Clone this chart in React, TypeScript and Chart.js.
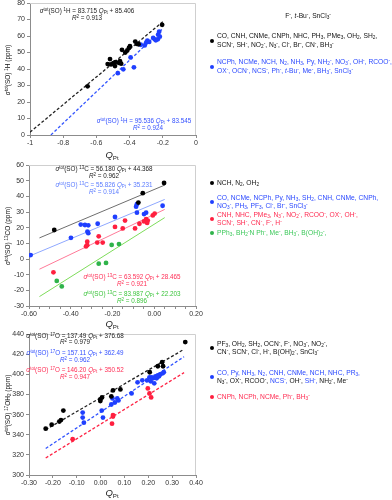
import React, { useEffect, useRef } from 'react';
import { Chart, registerables } from 'chart.js';
Chart.register(...registerables);

const FONT = "'Liberation Sans', Arial, Helvetica, sans-serif";

// ---------- Panel 1 (1H) ----------
const p1BlackQ = [-0.653, -0.532, -0.518, -0.512, -0.498, -0.486, -0.488, -0.466, -0.458, -0.451, -0.446, -0.426, -0.414, -0.404, -0.398, -0.366, -0.356, -0.346, -0.204];
const p1BlackH = [29.5, 43.0, 46.0, 42.8, 43.6, 44.2, 41.8, 43.8, 44.8, 43.2, 51.6, 50.0, 51.2, 52.8, 53.8, 56.6, 55.2, 55.0, 66.8];
const p1BlueQ = [-0.471, -0.438, -0.394, -0.374, -0.333, -0.309, -0.300, -0.293, -0.282, -0.258, -0.248, -0.242, -0.230, -0.228, -0.222, -0.218];
const p1BlueH = [37.5, 39.8, 47.0, 41.0, 54.7, 54.3, 56.0, 57.2, 56.4, 58.8, 58.0, 57.4, 58.0, 60.8, 62.6, 59.6];
const p1FitSlope = [83.715, 95.536];
const p1FitIntercept = [85.406, 83.545];
const p1FitFrom = [-1.0, -0.874];
const p1FitTo = [-0.2, -0.2];
const p1XTicks = [-1, -0.8, -0.6, -0.4, -0.2, 0];
const p1XLabels = ['-1', '-0.8', '-0.6', '-0.4', '-0.2', '0'];
const p1YTicks = [0, 10, 20, 30, 40, 50, 60, 70, 80];
const p1YLabels = ['0', '10', '20', '30', '40', '50', '60', '70', '80'];

// ---------- Panel 2 (13C) ----------
const p2BlackQ = [-0.479, -0.076, -0.055, 0.047];
const p2BlackC = [18.5, 36.0, 42.0, 48.5];
const p2BlueQ = [-0.592, -0.399, -0.352, -0.332, -0.316, -0.320, -0.316, -0.271, -0.188, -0.087, -0.083, -0.083, -0.049, -0.039, 0.040];
const p2BlueC = [2.5, 13.5, 22.0, 21.7, 21.5, 17.5, 16.5, 22.5, 26.8, 33.4, 35.0, 29.6, 28.7, 29.6, 34.0];
const p2RedQ = [-0.483, -0.327, -0.321, -0.321, -0.266, -0.273, -0.247, -0.188, -0.151, -0.140, -0.092, -0.071, -0.049, -0.039, -0.031, -0.034, -0.007, 0.002];
const p2RedC = [-8.5, 8.0, 8.8, 11.0, 14.5, 10.5, 10.5, 20.5, 19.5, 24.5, 19.5, 22.5, 24.0, 25.5, 24.5, 23.0, 27.8, 29.0];
const p2GreenQ = [-0.467, -0.443, -0.266, -0.231, -0.204, -0.169];
const p2GreenC = [-14.0, -17.5, -3.0, -2.5, 9.0, 9.5];
const p2FitSlope = [56.18, 55.826, 63.592, 83.987];
const p2FitIntercept = [44.368, 35.231, 28.465, 22.203];
const p2FitFrom = [-0.55, -0.6, -0.55, -0.55];
const p2FitTo = [0.05, 0.05, 0.05, 0.05];
const p2XTicks = [-0.6, -0.55, -0.5, -0.45, -0.4, -0.35, -0.3, -0.25, -0.2, -0.15, -0.1, -0.05, 0, 0.05, 0.1, 0.15, 0.2];
const p2XLabels = ['-0.60', '', '', '', '-0.40', '', '', '', '-0.20', '', '', '', '0.00', '', '', '', '0.20'];
const p2YTicks = [-30, -20, -10, 0, 10, 20, 30, 40, 50, 60];
const p2YLabels = ['-30', '-20', '-10', '0', '10', '20', '30', '40', '50', '60'];

// ---------- Panel 3 (17O) ----------
const p3BlackQ = [-0.230, -0.205, -0.173, -0.166, -0.156, -0.001, 0.006, -0.001, 0.045, 0.052, 0.083, 0.206, 0.240, 0.258, 0.262, 0.355];
const p3BlackO = [346, 350, 353, 354.5, 364, 375, 377, 373.5, 378, 384, 385, 402, 408, 412, 408, 432];
const p3BlueQ = [-0.075, -0.075, -0.070, 0.005, 0.010, 0.045, 0.050, 0.060, 0.070, 0.075, 0.130, 0.155, 0.175, 0.195, 0.205, 0.210, 0.215, 0.220, 0.225, 0.230, 0.235, 0.240, 0.245, 0.250, 0.260, 0.265];
const p3BlueO = [362, 357, 352, 364, 357, 370, 376, 372, 376, 374, 381, 392, 394, 394, 397, 393, 397, 396, 391, 398, 396, 399, 398, 400, 401, 402];
const p3RedQ = [-0.117, 0.048, 0.052, 0.052, 0.198, 0.205, 0.212];
const p3RedO = [335.5, 351, 359.5, 358, 386, 381, 377];
const p3FitSlope = [137.49, 157.11, 146.2];
const p3FitIntercept = [376.68, 362.49, 350.52];
const p3FitFrom = [-0.23, -0.23, -0.23];
const p3FitTo = [0.35, 0.35, 0.35];
const p3XTicks = [-0.3, -0.2, -0.1, 0, 0.1, 0.2, 0.3, 0.4];
const p3XLabels = ['-0.30', '-0.20', '-0.10', '0.00', '0.10', '0.20', '0.30', '0.40'];
const p3YTicks = [300, 320, 340, 360, 380, 400, 420, 440];
const p3YLabels = ['300', '320', '340', '360', '380', '400', '420', '440'];

const pts = (xs: number[], ys: number[]) => xs.map((x, i) => ({ x, y: ys[i] }));
const fitPts = (m: number, b: number, x0: number, x1: number) => [
  { x: x0, y: m * x0 + b },
  { x: x1, y: m * x1 + b },
];

const framePlugin = {
  id: 'frame',
  beforeDatasetsDraw(chart: any) {
    const { ctx, chartArea: a } = chart;
    ctx.save();
    ctx.strokeStyle = '#cfcfcf';
    ctx.lineWidth = 1;
    ctx.beginPath();
    ctx.moveTo(a.left, a.top + 0.5);
    ctx.lineTo(a.right - 0.5, a.top + 0.5);
    ctx.lineTo(a.right - 0.5, a.bottom);
    ctx.stroke();
    ctx.restore();
  },
};

function scatterSet(data: any[], color: string) {
  return { data, backgroundColor: color, borderColor: color, pointRadius: 2.4, pointBorderWidth: 0, showLine: false };
}
function lineSet(data: any[], color: string, dash: number[], width: number) {
  return { data, borderColor: color, backgroundColor: color, borderWidth: width, borderDash: dash, pointRadius: 0, showLine: true };
}

function makeConfig(o: any) {
  return {
    type: 'scatter',
    data: { datasets: o.datasets },
    plugins: [framePlugin],
    options: {
      responsive: false,
      animation: false,
      devicePixelRatio: 1,
      layout: { padding: { top: o.padTop, right: 19, left: 0, bottom: 0 } },
      plugins: { legend: { display: false }, tooltip: { enabled: false } },
      scales: {
        x: {
          type: 'linear',
          min: o.xMin,
          max: o.xMax,
          afterBuildTicks: (s: any) => { s.ticks = o.xTicks.map((v: number) => ({ value: v })); },
          afterFit: (s: any) => { s.height = 14; },
          ticks: { callback: (_v: any, i: number) => o.xLabels[i], autoSkip: false, maxRotation: 0, minRotation: 0, font: { size: 7, family: FONT }, color: '#333', padding: 1 },
          grid: { drawOnChartArea: false, drawTicks: true, tickLength: 3, color: '#8c8c8c' },
          border: { color: '#8c8c8c' },
        },
        y: {
          type: 'linear',
          min: o.yMin,
          max: o.yMax,
          afterBuildTicks: (s: any) => { s.ticks = o.yTicks.map((v: number) => ({ value: v })); },
          afterFit: (s: any) => { s.width = o.yWidth; },
          ticks: { callback: (_v: any, i: number) => o.yLabels[i], autoSkip: false, font: { size: 7, family: FONT }, color: '#333', padding: 2 },
          grid: { drawOnChartArea: false, drawTicks: true, tickLength: 3, color: '#8c8c8c' },
          border: { color: '#8c8c8c' },
        },
      },
    },
  };
}

const BLACK = '#000000';
const BLUE = '#1f3fff';
const RED = '#ff1f3f';
const GREEN = '#2fb34a';

const config1 = makeConfig({
  padTop: 13, yWidth: 30,
  xMin: -1, xMax: 0, yMin: 0, yMax: 80,
  xTicks: p1XTicks, xLabels: p1XLabels, yTicks: p1YTicks, yLabels: p1YLabels,
  datasets: [
    scatterSet(pts(p1BlackQ, p1BlackH), BLACK),
    scatterSet(pts(p1BlueQ, p1BlueH), BLUE),
    lineSet(fitPts(p1FitSlope[0], p1FitIntercept[0], p1FitFrom[0], p1FitTo[0]), '#222', [3, 2], 1.3),
    lineSet(fitPts(p1FitSlope[1], p1FitIntercept[1], p1FitFrom[1], p1FitTo[1]), '#3355ff', [3, 2], 1.3),
  ],
});

const config2 = makeConfig({
  padTop: 15, yWidth: 29,
  xMin: -0.6, xMax: 0.2, yMin: -30, yMax: 60,
  xTicks: p2XTicks, xLabels: p2XLabels, yTicks: p2YTicks, yLabels: p2YLabels,
  datasets: [
    scatterSet(pts(p2BlackQ, p2BlackC), BLACK),
    scatterSet(pts(p2BlueQ, p2BlueC), BLUE),
    scatterSet(pts(p2RedQ, p2RedC), RED),
    scatterSet(pts(p2GreenQ, p2GreenC), GREEN),
    lineSet(fitPts(p2FitSlope[0], p2FitIntercept[0], p2FitFrom[0], p2FitTo[0]), '#6e6e6e', [], 1),
    lineSet(fitPts(p2FitSlope[1], p2FitIntercept[1], p2FitFrom[1], p2FitTo[1]), '#8fa8ff', [], 1),
    lineSet(fitPts(p2FitSlope[2], p2FitIntercept[2], p2FitFrom[2], p2FitTo[2]), '#ff7a98', [], 1),
    lineSet(fitPts(p2FitSlope[3], p2FitIntercept[3], p2FitFrom[3], p2FitTo[3]), '#7edc5a', [], 1),
  ],
});

const config3 = makeConfig({
  padTop: 14, yWidth: 29,
  xMin: -0.3, xMax: 0.4, yMin: 300, yMax: 440,
  xTicks: p3XTicks, xLabels: p3XLabels, yTicks: p3YTicks, yLabels: p3YLabels,
  datasets: [
    scatterSet(pts(p3BlackQ, p3BlackO), BLACK),
    scatterSet(pts(p3BlueQ, p3BlueO), BLUE),
    scatterSet(pts(p3RedQ, p3RedO), RED),
    lineSet(fitPts(p3FitSlope[0], p3FitIntercept[0], p3FitFrom[0], p3FitTo[0]), '#222', [3, 2], 1.3),
    lineSet(fitPts(p3FitSlope[1], p3FitIntercept[1], p3FitFrom[1], p3FitTo[1]), '#3355ff', [3, 2], 1.3),
    lineSet(fitPts(p3FitSlope[2], p3FitIntercept[2], p3FitFrom[2], p3FitTo[2]), '#ff2244', [3, 2], 1.3),
  ],
});

function Panel({ top, height, config }: { top: number; height: number; config: any }) {
  const ref = useRef<HTMLCanvasElement>(null);
  useEffect(() => {
    const c = new Chart(ref.current as HTMLCanvasElement, config);
    return () => c.destroy();
  }, [config]);
  return (
    <canvas ref={ref} width={215} height={height}
      style={{ position: 'absolute', left: 0, top, width: 215, height }} />
  );
}

const subS: React.CSSProperties = { fontSize: '0.7em', verticalAlign: '-0.3em', lineHeight: 0 };
const supS: React.CSSProperties = { fontSize: '0.7em', verticalAlign: '0.45em', lineHeight: 0 };

function rich(s: string) {
  const parts = s.split(/(_\{[^}]*\}|\^\{[^}]*\}|\*[^*]+\*)/);
  return parts.map((p, i) => {
    if (p.startsWith('_{')) return <sub key={i} style={subS}>{p.slice(2, -1)}</sub>;
    if (p.startsWith('^{')) return <sup key={i} style={supS}>{p.slice(2, -1)}</sup>;
    if (p.length > 2 && p.startsWith('*') && p.endsWith('*')) return <i key={i}>{p.slice(1, -1)}</i>;
    return <React.Fragment key={i}>{p}</React.Fragment>;
  });
}

function T({ x, y, children, color = '#111', size = 6.3, align = 'left' }: any) {
  const tx = align === 'center' ? '-50%' : '0';
  return (
    <div style={{
      position: 'absolute', left: x, top: y, transform: `translate(${tx}, -50%)`,
      whiteSpace: 'nowrap', fontSize: size, lineHeight: 1, color, fontFamily: FONT,
    }}>{children}</div>
  );
}

const LS = 6.7;

function YTitle({ x, y, text }: { x: number; y: number; text: string }) {
  return (
    <div style={{
      position: 'absolute', left: x, top: y, transform: 'translate(-50%, -50%) rotate(-90deg)',
      whiteSpace: 'nowrap', fontSize: 6.5, lineHeight: 1, color: '#111', fontFamily: FONT,
    }}>{rich(text)}</div>
  );
}

function Dot({ x, y, color }: { x: number; y: number; color: string }) {
  return <div style={{ position: 'absolute', left: x - 2, top: y - 2, width: 4, height: 4, borderRadius: 2, background: color }} />;
}

function QPt({ x, y }: { x: number; y: number }) {
  return (
    <T x={x} y={y} align="center" size={9.5} color="#222">
      <i>Q</i><sub style={{ fontSize: '0.65em', verticalAlign: '-0.3em', lineHeight: 0 }}>Pt</sub>
    </T>
  );
}

const EQ_BLUE1 = '#3350ff';
const EQ_BLUE2 = '#5a7bff';
const EQ_RED = '#ff2e55';
const EQ_GREEN = '#3cc43c';
const LEG_BLUE = '#2a48ff';
const LEG_RED = '#ff2a50';
const LEG_GREEN = '#3cc85a';

export default function App() {
  return (
    <div style={{ position: 'fixed', left: 0, top: 0, width: 392, height: 500, background: '#fff', overflow: 'hidden', fontFamily: FONT }}>
      <Panel top={-10} height={159} config={config1} />
      <Panel top={150} height={170} config={config2} />
      <Panel top={320} height={169} config={config3} />

      {/* Panel 1 texts */}
      <YTitle x={8} y={70} text="*σ*^{tot}(SO) ^{1}H (ppm)" />
      <QPt x={112} y={155} />
      <T x={87} y={11} align="center" color="#222">{rich('*σ*^{tot}(SO) ^{1}H = 83.715 *Q*_{Pt} + 85.406')}</T>
      <T x={87} y={18} align="center" color="#222">{rich('*R*^{2} = 0.913')}</T>
      <T x={144} y={121} align="center" color={EQ_BLUE1}>{rich('*σ*^{tot}(SO) ^{1}H = 95.536 *Q*_{Pt} + 83.545')}</T>
      <T x={148} y={128} align="center" color={EQ_BLUE1}>{rich('*R*^{2} = 0.924')}</T>

      <T x={308} y={16} align="center" color="#111" size={LS}>{rich('F^{-}, *t*-Bu^{-}, SnCl_{3}^{-}')}</T>
      <Dot x={212} y={41} color={BLACK} />
      <T x={217} y={36} color="#111" size={LS}>{rich('CO, CNH, CNMe, CNPh, NHC, PH_{3}, PMe_{3}, OH_{2}, SH_{2},')}</T>
      <T x={217} y={45} color="#111" size={LS}>{rich('SCN^{-}, SH^{-}, NO_{2}^{-}, N_{3}^{-}, Cl^{-}, Br^{-}, CN^{-}, BH_{3}^{-}')}</T>
      <Dot x={212} y={67} color={BLUE} />
      <T x={217} y={62} color={LEG_BLUE} size={LS}>{rich('NCPh, NCMe, NCH, N_{2}, NH_{3}, Py, NH_{2}^{-}, NO_{3}^{-}, OH^{-}, RCOO^{-},')}</T>
      <T x={217} y={71} color={LEG_BLUE} size={LS}>{rich('OX^{-}, OCN^{-}, NCS^{-}, Ph^{-}, *t*-Bu^{-}, Me^{-}, BH_{3}^{-}, SnCl_{3}^{-}')}</T>

      {/* Panel 2 texts */}
      <YTitle x={8} y={236} text="*σ*^{tot}(SO) ^{13}CO (ppm)" />
      <QPt x={112} y={324} />
      <T x={104} y={169} align="center" color="#222">{rich('*σ*^{tot}(SO) ^{13}C = 56.180 *Q*_{Pt} + 44.368')}</T>
      <T x={104} y={176} align="center" color="#222">{rich('*R*^{2} = 0.962')}</T>
      <T x={104} y={185} align="center" color={EQ_BLUE2}>{rich('*σ*^{tot}(SO) ^{13}C = 55.826 *Q*_{Pt} + 35.231')}</T>
      <T x={104} y={192} align="center" color={EQ_BLUE2}>{rich('*R*^{2} = 0.914')}</T>
      <T x={132} y={277} align="center" color={EQ_RED}>{rich('*σ*^{tot}(SO) ^{13}C = 63.592 *Q*_{Pt} + 28.465')}</T>
      <T x={132} y={284} align="center" color={EQ_RED}>{rich('*R*^{2} = 0.921')}</T>
      <T x={132} y={294} align="center" color={EQ_GREEN}>{rich('*σ*^{tot}(SO) ^{13}C = 83.987 *Q*_{Pt} + 22.203')}</T>
      <T x={132} y={301} align="center" color={EQ_GREEN}>{rich('*R*^{2} = 0.896')}</T>

      <Dot x={212} y={183} color={BLACK} />
      <T x={217} y={183} color="#111" size={LS}>{rich('NCH,  N_{2}, OH_{2}')}</T>
      <Dot x={212} y={202} color={BLUE} />
      <T x={217} y={198} color={LEG_BLUE} size={LS}>{rich('CO, NCMe, NCPh, Py, NH_{3}, SH_{2}, CNH, CNMe, CNPh,')}</T>
      <T x={217} y={206} color={LEG_BLUE} size={LS}>{rich('NO_{3}^{-}, PH_{3}, PF_{3}, Cl^{-}, Br^{-}, SnCl_{3}^{-}')}</T>
      <Dot x={212} y={219} color={RED} />
      <T x={217} y={215} color={LEG_RED} size={LS}>{rich('CNH, NHC, PMe_{3}, N_{3}^{-}, NO_{2}^{-}, RCOO^{-}, OX^{-}, OH^{-},')}</T>
      <T x={217} y={223} color={LEG_RED} size={LS}>{rich('SCN^{-}, SH^{-}, CN^{-}, F^{-}, H^{-}')}</T>
      <Dot x={212} y={233} color={GREEN} />
      <T x={217} y={233} color={LEG_GREEN} size={LS}>{rich('PPh_{3}, BH_{2}^{-}N Ph^{-}, Me^{-}, BH_{3}^{-}, B(OH)_{2}^{-},')}</T>

      {/* Panel 3 texts */}
      <YTitle x={8} y={405} text="*σ*^{tot}(SO) ^{17}OH_{2} (ppm)" />
      <QPt x={112} y={493} />
      <T x={75} y={336} align="center" color="#222">{rich('*σ*^{tot}(SO) ^{17}O = 137.49 *Q*_{Pt} + 376.68')}</T>
      <T x={75} y={342} align="center" color="#222">{rich('*R*^{2} = 0.979')}</T>
      <T x={75} y={353} align="center" color={EQ_BLUE1}>{rich('*σ*^{tot}(SO) ^{17}O = 157.11 *Q*_{Pt} + 362.49')}</T>
      <T x={75} y={360} align="center" color={EQ_BLUE1}>{rich('*R*^{2} = 0.962')}</T>
      <T x={75} y={370} align="center" color={EQ_RED}>{rich('*σ*^{tot}(SO) ^{17}O = 146.20 *Q*_{Pt} + 350.52')}</T>
      <T x={75} y={377} align="center" color={EQ_RED}>{rich('*R*^{2} = 0.947')}</T>

      <Dot x={212} y={348} color={BLACK} />
      <T x={217} y={344} color="#111" size={LS}>{rich('PF_{3}, OH_{2}, SH_{2}, OCN^{-}, F^{-}, NO_{3}^{-}, NO_{2}^{-},')}</T>
      <T x={217} y={352} color="#111" size={LS}>{rich('CN^{-}, SCN^{-}, Cl^{-}, H^{-}, B(OH)_{2}^{-}, SnCl_{3}^{-}')}</T>
      <Dot x={212} y={377} color={BLUE} />
      <T x={217} y={373} color={LEG_BLUE} size={LS}>{rich('CO, Py, NH_{3}, N_{2}, CNH, CNMe, NCH, NHC, PR_{3},')}</T>
      <T x={217} y={381} color="#111" size={LS}>
        <span>{rich('N_{3}^{-}, OX^{-}, RCOO^{-}, ')}</span>
        <span style={{ color: LEG_BLUE }}>{rich('NCS^{-}, ')}</span>
        <span>{rich('OH^{-}, ')}</span>
        <span style={{ color: LEG_BLUE }}>{rich('SH^{-}, ')}</span>
        <span>{rich('NH_{2}^{-}, Me^{-}')}</span>
      </T>
      <Dot x={212} y={397} color={RED} />
      <T x={217} y={397} color={LEG_RED} size={LS}>{rich('CNPh, NCPh, NCMe, Ph^{-}, BH_{3}^{-}')}</T>
    </div>
  );
}
